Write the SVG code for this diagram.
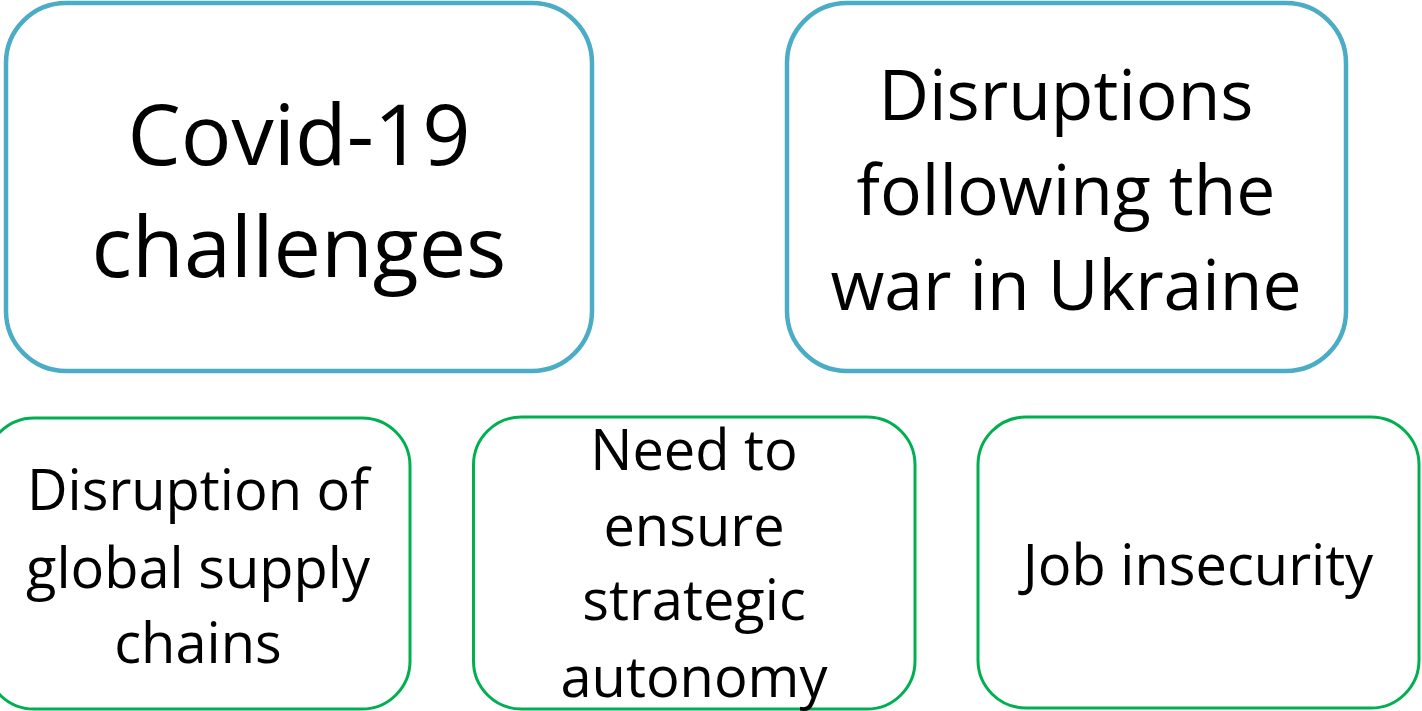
<svg xmlns="http://www.w3.org/2000/svg" width="1422" height="711" viewBox="0 0 1422 711">
<style>
.blue{fill:#fff;stroke:#4BACC6;stroke-width:4.5}
.green{fill:#fff;stroke:#00B050;stroke-width:3}
text{font-family:"Open Sans","Noto Sans",sans-serif;fill:#000;text-anchor:middle}
.big{font-size:84.5px}
.mid{font-size:69.6px}
.sm{font-size:56px}
</style>
<rect width="1422" height="711" fill="#fff"/>
<g id="covid">
<rect class="blue" x="6" y="3" width="586" height="368" rx="60"/>
<text class="big" x="299" y="165">Covid-19</text>
<text class="big" x="299" y="277">challenges</text>
</g>
<g id="ukraine">
<rect class="blue" x="787" y="3" width="559" height="368" rx="60"/>
<text class="mid" x="1066" y="120">Disruptions</text>
<text class="mid" x="1066" y="215">following the</text>
<text class="mid" x="1066" y="310">war in Ukraine</text>
</g>
<g id="supply">
<rect class="green" x="-14" y="418" width="424" height="291" rx="48"/>
<text class="sm" x="198" y="510">Disruption of</text>
<text class="sm" x="198" y="588">global supply</text>
<text class="sm" x="198" y="663">chains</text>
</g>
<g id="autonomy">
<rect class="green" x="473.5" y="417" width="441.5" height="292" rx="48"/>
<text class="sm" x="694" y="470">Need to</text>
<text class="sm" x="694" y="546">ensure</text>
<text class="sm" x="694" y="620">strategic</text>
<text class="sm" x="694" y="697">autonomy</text>
</g>
<g id="job">
<rect class="green" x="978" y="417" width="441" height="291" rx="48"/>
<text class="sm" x="1198" y="585">Job insecurity</text>
</g>
<g id="connectors"></g>
</svg>
